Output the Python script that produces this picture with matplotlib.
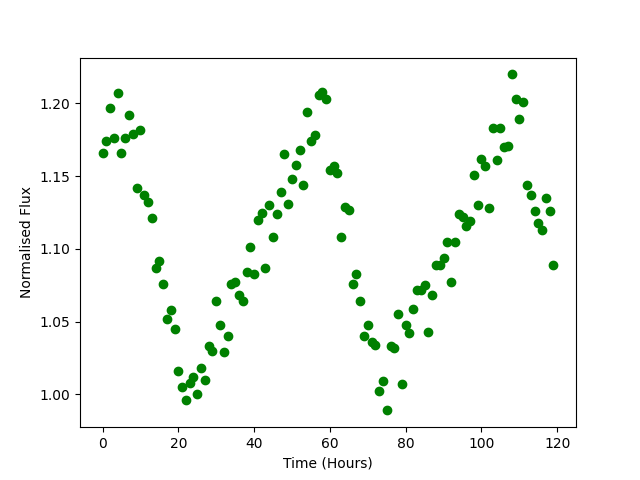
import matplotlib
matplotlib.use("Agg")
import matplotlib.pyplot as plt
import numpy as np

hours = np.arange(120)
flux = [
    1.166, 1.174, 1.197, 1.176, 1.207, 1.166, 1.176, 1.192, 1.179, 1.142,
    1.182, 1.137, 1.132, 1.121, 1.087, 1.092, 1.076, 1.052, 1.058, 1.045,
    1.016, 1.005, 0.996, 1.008, 1.012, 1.000, 1.018, 1.010, 1.033, 1.030,
    1.064, 1.048, 1.029, 1.040, 1.076, 1.077, 1.068, 1.064, 1.084, 1.101,
    1.083, 1.120, 1.125, 1.087, 1.130, 1.108, 1.124, 1.139, 1.165, 1.131,
    1.148, 1.158, 1.168, 1.144, 1.194, 1.174, 1.178, 1.206, 1.208, 1.203,
    1.154, 1.157, 1.152, 1.108, 1.129, 1.127, 1.076, 1.083, 1.064, 1.040,
    1.048, 1.036, 1.034, 1.002, 1.009, 0.989, 1.033, 1.032, 1.055, 1.007,
    1.048, 1.042, 1.059, 1.072, 1.072, 1.075, 1.043, 1.068, 1.089, 1.089,
    1.094, 1.105, 1.077, 1.105, 1.124, 1.122, 1.116, 1.119, 1.151, 1.130,
    1.162, 1.157, 1.128, 1.183, 1.161, 1.183, 1.170, 1.171, 1.220, 1.203,
    1.189, 1.201, 1.144, 1.137, 1.126, 1.118, 1.113, 1.135, 1.126, 1.089,
]

fig, ax = plt.subplots(figsize=(6.4, 4.8), dpi=100)
ax.plot(hours, flux, 'go')
ax.set_xlabel('Time (Hours)')
ax.set_ylabel('Normalised Flux')
fig.savefig('out.png')
